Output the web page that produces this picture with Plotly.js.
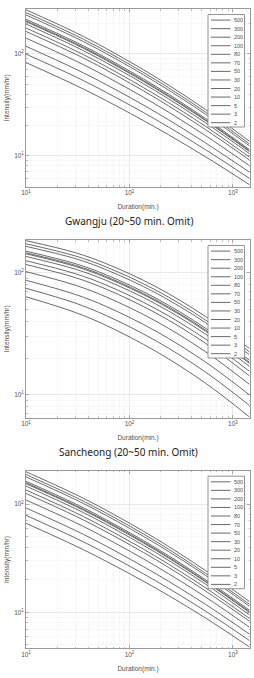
<!DOCTYPE html>
<html>
<head>
<meta charset="utf-8">
<script src="https://cdn.plot.ly/plotly-3.0.1.min.js"></script>
<style>
  html, body { margin: 0; padding: 0; background: #ffffff; }
  #chart { width: 254px; height: 678px; }
</style>
</head>
<body>
<div id="chart"></div>
<script>
// Rainfall intensity-duration-frequency curves, three stations (log-log).
const durations = [10, 30, 60, 180, 540, 1440];           // minutes
const returnPeriods = ['500', '300', '200', '100', '80', '70', '50', '30', '20', '10', '5', '3', '2'];

// Intensity (mm/hr) per return period (rows follow returnPeriods), columns follow durations
const gwangju = [
  [270.0, 161.8, 112.2, 58.9, 28.5, 13.9],
  [253.5, 151.9, 105.4, 55.4, 26.9, 13.1],
  [240.5, 144.1, 100.0, 52.6, 25.6, 12.5],
  [218.1, 130.7, 90.8, 47.9, 23.3, 11.5],
  [211.0, 126.4, 87.8, 46.3, 22.6, 11.2],
  [206.6, 123.9, 86.0, 45.4, 22.2, 11.0],
  [195.7, 117.3, 81.5, 43.1, 21.1, 10.5],
  [179.0, 107.3, 74.6, 39.5, 19.5, 9.7],
  [165.7, 99.3, 69.1, 36.7, 18.1, 9.1],
  [142.5, 85.5, 59.6, 31.8, 15.8, 8.0],
  [118.5, 71.0, 49.7, 26.7, 13.4, 6.9],
  [99.3, 59.6, 41.7, 22.6, 11.5, 6.0],
  [82.0, 49.2, 34.6, 18.9, 9.8, 5.2]
];

const sancheong = [
  [182.8, 145.6, 118.2, 76.7, 43.9, 24.0],
  [172.3, 136.9, 111.0, 71.9, 41.1, 22.5],
  [164.1, 130.2, 105.4, 68.2, 39.0, 21.3],
  [149.9, 118.4, 95.8, 61.8, 35.2, 19.2],
  [145.3, 114.7, 92.7, 59.7, 34.0, 18.5],
  [142.6, 112.4, 90.8, 58.5, 33.3, 18.1],
  [135.7, 106.7, 86.1, 55.4, 31.5, 17.1],
  [125.1, 98.0, 78.9, 50.6, 28.7, 15.6],
  [116.6, 91.0, 73.1, 46.7, 26.5, 14.3],
  [101.9, 78.9, 63.1, 40.1, 22.6, 12.2],
  [86.6, 66.3, 52.7, 33.2, 18.6, 10.0],
  [74.5, 56.3, 44.4, 27.7, 15.4, 8.2],
  [63.5, 47.2, 36.9, 22.7, 12.5, 6.6]
];

const thirdStation = [
  [198.6, 122.8, 87.3, 47.9, 24.4, 12.6],
  [187.0, 115.6, 82.2, 45.2, 23.0, 11.9],
  [177.8, 110.0, 78.2, 43.0, 22.0, 11.4],
  [162.1, 100.3, 71.3, 39.3, 20.1, 10.5],
  [157.1, 97.1, 69.2, 38.1, 19.5, 10.2],
  [154.0, 95.3, 67.8, 37.4, 19.2, 10.0],
  [146.4, 90.5, 64.5, 35.6, 18.3, 9.5],
  [134.6, 83.3, 59.3, 32.8, 16.9, 8.8],
  [125.2, 77.5, 55.2, 30.6, 15.8, 8.3],
  [109.0, 67.4, 48.1, 26.7, 13.9, 7.3],
  [92.0, 57.0, 40.7, 22.7, 11.9, 6.3],
  [78.6, 48.6, 34.8, 19.5, 10.3, 5.5],
  [66.4, 41.1, 29.5, 16.7, 8.9, 4.8]
];

const xTickVals = [10, 100, 1000];
const xTickText = ['10<sup>1</sup>', '10<sup>2</sup>', '10<sup>3</sup>'];
const yTickVals = [10, 100];
const yTickText = ['10<sup>1</sup>', '10<sup>2</sup>'];

const captions = ['Gwangju (20~50 min. Omit)', 'Sancheong (20~50 min. Omit)'];

// ---- page geometry (pixels) ----
const W = 254, H = 678;
const plotLeft = 26, plotRight = 250;
const panels = [
  { values: gwangju,      top: 9,     bottom: 186.7, yMin: 4.97, yMax: 275, captionY: 221 },
  { values: sancheong,    top: 240,   bottom: 417.7, yMin: 6.5,  yMax: 185, captionY: 452 },
  { values: thirdStation, top: 470.7, bottom: 648.3, yMin: 4.66, yMax: 203, captionY: null }
];

const px = x => x / W;
const py = y => 1 - y / H;

function minorVals(decades) {
  const out = [];
  decades.forEach(d => { for (let k = 2; k <= 9; k++) out.push(k * d); });
  return out;
}

const tickFont = { family: 'Liberation Sans, Arial, sans-serif', size: 6.5, color: '#505050' };
const titleFont = { family: 'Liberation Sans, Arial, sans-serif', size: 6.5, color: '#505050' };

function axisBase() {
  return {
    type: 'log',
    showline: true, linecolor: '#808080', linewidth: 0.8, mirror: 'allticks',
    ticks: 'inside', ticklen: 3, tickcolor: '#808080', tickwidth: 0.6,
    showgrid: true, gridcolor: '#dadada', gridwidth: 0.6,
    zeroline: false, fixedrange: true, automargin: false,
    tickfont: tickFont
  };
}

const traces = [];
const layout = {
  width: W, height: H,
  margin: { l: 0, r: 0, t: 0, b: 0 },
  paper_bgcolor: '#ffffff', plot_bgcolor: '#ffffff',
  showlegend: false,
  shapes: [], annotations: []
};

panels.forEach((p, i) => {
  const n = i === 0 ? '' : String(i + 1);
  const xa = 'xaxis' + n, ya = 'yaxis' + n;
  const xr = 'x' + n, yr = 'y' + n;

  layout[xa] = Object.assign(axisBase(), {
    anchor: yr,
    domain: [px(plotLeft), px(plotRight)],
    range: [1, Math.log10(1460)],
    tickmode: 'array', tickvals: xTickVals, ticktext: xTickText,
    minor: { tickmode: 'array', tickvals: minorVals([10, 100, 1000]), showgrid: true,
             gridcolor: '#efefef', gridwidth: 0.5, ticks: 'inside', ticklen: 1.5, tickcolor: '#9a9a9a' },
    title: { text: 'Duration(min.)', font: titleFont, standoff: 9 }
  });
  layout[ya] = Object.assign(axisBase(), {
    anchor: xr,
    domain: [py(p.bottom), py(p.top)],
    range: [Math.log10(p.yMin), Math.log10(p.yMax)],
    tickmode: 'array', tickvals: yTickVals, ticktext: yTickText,
    minor: { tickmode: 'array', tickvals: minorVals([1, 10, 100]), showgrid: true,
             gridcolor: '#efefef', gridwidth: 0.5, ticks: 'inside', ticklen: 1.5, tickcolor: '#9a9a9a' },
    title: { text: 'Intensity(mm/hr)', font: titleFont, standoff: 3 }
  });

  p.values.forEach((row, j) => {
    traces.push({
      type: 'scatter', mode: 'lines',
      x: durations, y: row,
      name: returnPeriods[j],
      xaxis: xr, yaxis: yr,
      line: { color: '#595959', width: 0.9, shape: 'spline', smoothing: 1 },
      hoverinfo: 'skip'
    });
  });

  // legend box with one sample line and label per return period
  const boxTop = p.top + 5.5, boxBottom = p.top + 118;
  layout.shapes.push({
    type: 'rect', xref: 'paper', yref: 'paper',
    x0: px(208), x1: px(244.5), y0: py(boxBottom), y1: py(boxTop),
    fillcolor: '#ffffff', line: { color: '#7a7a7a', width: 0.8 }, layer: 'above'
  });
  returnPeriods.forEach((rp, j) => {
    const ly = boxTop + 5.6 + j * 8.55;
    layout.shapes.push({
      type: 'line', xref: 'paper', yref: 'paper',
      x0: px(211), x1: px(230.5), y0: py(ly), y1: py(ly),
      line: { color: '#595959', width: 0.9 }, layer: 'above'
    });
    layout.annotations.push({
      xref: 'paper', yref: 'paper', x: px(231.5), y: py(ly),
      xanchor: 'left', yanchor: 'middle', showarrow: false,
      text: rp, font: { family: 'Liberation Sans, Arial, sans-serif', size: 5.5, color: '#505050' }
    });
  });

  if (p.captionY !== null) {
    layout.annotations.push({
      xref: 'paper', yref: 'paper', x: px(128.5), y: py(p.captionY),
      xanchor: 'center', yanchor: 'middle', showarrow: false,
      text: captions[i], font: { family: 'Noto Sans, Open Sans, sans-serif', size: 10, color: '#222222' }
    });
  }
});

Plotly.newPlot('chart', traces, layout, { staticPlot: true, displayModeBar: false });
</script>
</body>
</html>
